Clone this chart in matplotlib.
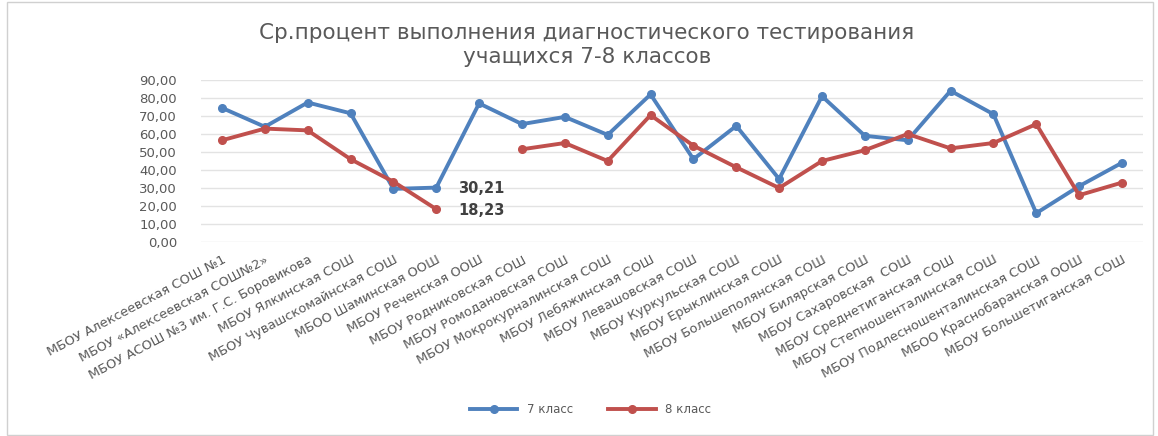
import numpy as np
import matplotlib
matplotlib.use("Agg")
import matplotlib.pyplot as plt
from matplotlib.patches import Rectangle

schools = [
    "МБОУ Алексеевская СОШ №1",
    "МБОУ «Алексеевская СОШ№2»",
    "МБОУ АСОШ №3 им. Г.С. Боровикова",
    "МБОУ Ялкинская СОШ",
    "МБОУ Чувашскомайнская СОШ",
    "МБОО Шаминская ООШ",
    "МБОУ Реченская ООШ",
    "МБОУ Родниковская СОШ",
    "МБОУ Ромодановская СОШ",
    "МБОУ Мокрокурналинская СОШ",
    "МБОУ Лебяжинская СОШ",
    "МБОУ Левашовская СОШ",
    "МБОУ Куркульская СОШ",
    "МБОУ Ерыклинская СОШ",
    "МБОУ Большеполянская СОШ",
    "МБОУ Билярская СОШ",
    "МБОУ Сахаровская  СОШ",
    "МБОУ Среднетиганская СОШ",
    "МБОУ Степношенталинская СОШ",
    "МБОУ Подлесношенталинская СОШ",
    "МБОО Краснобаранская ООШ",
    "МБОУ Большетиганская СОШ",
]

grade7 = [74.5, 64.0, 77.5, 71.5, 29.5, 30.21, 77.0, 65.5, 69.5, 59.5, 82.0, 46.0,
          64.5, 35.0, 81.0, 59.0, 56.5, 84.0, 71.0, 16.0, 31.0, 44.0]
grade8 = [56.5, 63.0, 62.0, 46.0, 33.5, 18.23, np.nan, 51.5, 55.0, 45.0, 70.5, 53.5,
          41.5, 30.0, 45.0, 51.0, 60.0, 52.0, 55.0, 65.5, 26.0, 33.0]

title = "Ср.процент выполнения диагностического тестирования\nучащихся 7-8 классов"
series_names = ["7 класс", "8 класс"]
yticks = [0, 10, 20, 30, 40, 50, 60, 70, 80, 90]

blue = "#4F81BD"
red = "#C0504D"
gray = "#595959"

fig = plt.figure(figsize=(11.58, 4.36), dpi=100)
fig.patch.set_facecolor("white")
ax = fig.add_axes([0.1732, 0.445, 0.8142, 0.3715])

x = np.arange(len(schools))
ax.plot(x, grade7, color=blue, lw=2.8, marker="o", ms=5.5, label=series_names[0],
        solid_joinstyle="round", zorder=3)
ax.plot(x, grade8, color=red, lw=2.8, marker="o", ms=5.5, label=series_names[1],
        solid_joinstyle="round", zorder=3)

ax.set_xlim(-0.5, len(schools) - 0.5)
ax.set_ylim(0, 90)
ax.set_yticks(yticks)
ax.set_yticklabels([f"{v:.2f}".replace(".", ",") for v in yticks],
                   fontsize=9.5, color=gray)
ax.tick_params(axis="y", length=0, pad=17)
ax.set_xticks(x)
ax.set_xticklabels(schools, rotation=28, ha="right", rotation_mode="anchor",
                   fontsize=9.4, color=gray)
ax.tick_params(axis="x", length=0, pad=8)
ax.grid(axis="y", color="#E3E3E3", lw=1)
ax.set_axisbelow(True)
for s in ax.spines.values():
    s.set_visible(False)

# data labels
ax.annotate(f"{grade7[5]:.2f}".replace(".", ","), (x[5], grade7[5]),
            xytext=(16, -1), textcoords="offset points", va="center", ha="left",
            fontsize=10.5, color="#404040", fontweight="bold")
ax.annotate(f"{grade8[5]:.2f}".replace(".", ","), (x[5], grade8[5]),
            xytext=(16, -1), textcoords="offset points", va="center", ha="left",
            fontsize=10.5, color="#404040", fontweight="bold")

fig.text(0.507, 0.897, title, ha="center", va="center", fontsize=15.5,
         color=gray, linespacing=1.25)

leg = fig.legend(loc="center", bbox_to_anchor=(0.51, 0.06), ncol=2, frameon=False,
                 fontsize=8.5, handlelength=4.0, columnspacing=3.0,
                 labelcolor=gray)

fig.add_artist(Rectangle((0.006, 0.002), 0.99, 0.994, transform=fig.transFigure,
                         fill=False, edgecolor="#D0D0D0", lw=1))

fig.savefig("out.png", dpi=100)
